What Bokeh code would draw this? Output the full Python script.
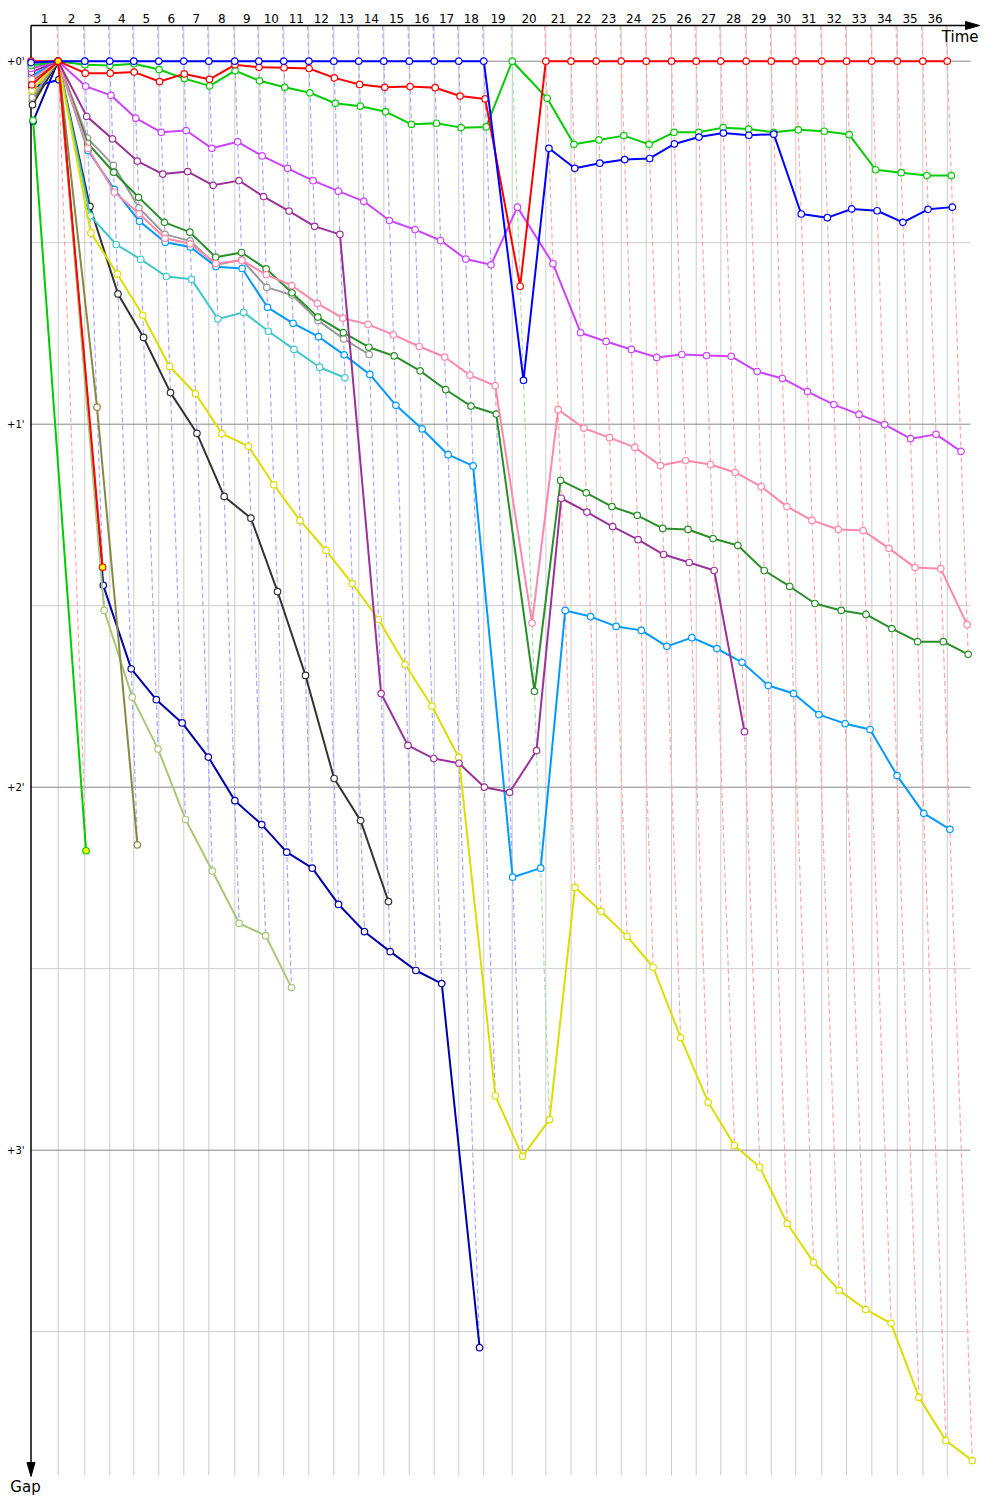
from bokeh.plotting import figure
from bokeh.models import Range1d
from bokeh.embed import file_html
from bokeh.resources import INLINE
from bokeh.core.properties import value

# ---------------- data ----------------
# leader lap times (seconds) for laps 1..36
LAP_TIMES_S = [127.5, 124.7, 117.2, 112.5, 117.2, 117.2, 117.2, 121.9, 112.5, 117.2,
               117.2, 117.2, 117.2, 117.2, 119.1, 117.2, 115.3, 117.2, 133.1, 157.5,
               118.1, 118.1, 117.2, 117.2, 118.6, 115.8, 115.3, 119.1, 117.2, 115.3,
               121.9, 115.8, 118.6, 119.1, 120.0, 114.4]
LAP_LABELS = [str(i) for i in range(1, 37)]
LAP_LEADER = ["red"] + ["blue"] * 17 + ["green"] + ["red"] * 17
GAP_TICKS = [0, 1, 2, 3]
GAP_TICK_LABELS = ["+0'", "+1'", "+2'", "+3'"]

# gaps to leader in minutes, index 0 = start, index n = end of lap n
gap_navy = [0.166, 0.0, 1.444, 1.674, 1.759, 1.823, 1.917, 2.037, 2.103, 2.179, 2.223,
            2.323, 2.398, 2.453, 2.505, 2.541, 3.544]
gap_lightolive = [0.090, 0.0, 1.513, 1.752, 1.895, 2.089, 2.231, 2.375, 2.409, 2.552]
gap_olive = [0.110, 0.0, 0.953, 2.159]
gap_green_ret = [0.163, 2.175]
gap_blue_ret = [0.072, 0.051]
gap_black = [0.120, 0.0, 0.400, 0.641, 0.761, 0.913, 1.025, 1.199, 1.259, 1.461, 1.692,
             1.976, 2.092, 2.315]
gap_teal = [0.045, 0.0, 0.426, 0.505, 0.546, 0.593, 0.601, 0.710, 0.692, 0.744, 0.794,
            0.843, 0.872]
gap_grey = [0.100, 0.0, 0.212, 0.287, 0.404, 0.477, 0.495, 0.561, 0.547, 0.623, 0.644,
            0.714, 0.765, 0.808]
gap_yellow = [0.080, 0.0, 0.473, 0.586, 0.700, 0.841, 0.916, 1.026, 1.061, 1.167, 1.265,
              1.348, 1.439, 1.538, 1.662, 1.777, 1.918, 2.850, 3.017, 2.916, 2.276,
              2.342, 2.411, 2.496, 2.690, 2.868, 2.987, 3.047, 3.202, 3.309, 3.386,
              3.439, 3.477, 3.681, 3.800, 3.855]
gap_dodger = [0.040, 0.0, 0.246, 0.353, 0.441, 0.499, 0.512, 0.566, 0.571, 0.678, 0.722,
              0.759, 0.809, 0.863, 0.948, 1.013, 1.084, 1.115, 2.248, 2.223, 1.513,
              1.530, 1.557, 1.568, 1.612, 1.588, 1.618, 1.656, 1.720, 1.742, 1.800,
              1.825, 1.841, 1.968, 2.072, 2.116]
gap_darkgreen = [0.055, 0.0, 0.226, 0.306, 0.375, 0.444, 0.471, 0.540, 0.527, 0.572, 0.638,
                 0.705, 0.748, 0.788, 0.812, 0.853, 0.905, 0.950, 0.972, 1.736, 1.155,
                 1.189, 1.227, 1.251, 1.287, 1.290, 1.315, 1.334, 1.403, 1.447, 1.494,
                 1.513, 1.524, 1.563, 1.599, 1.599, 1.634]
gap_pink = [0.050, 0.0, 0.240, 0.361, 0.420, 0.488, 0.503, 0.557, 0.549, 0.588, 0.618,
            0.667, 0.708, 0.725, 0.754, 0.786, 0.815, 0.865, 0.894, 1.548, 0.960,
            1.011, 1.037, 1.064, 1.114, 1.100, 1.111, 1.133, 1.172, 1.227, 1.265,
            1.290, 1.293, 1.342, 1.395, 1.398, 1.552]
gap_purple = [0.030, 0.0, 0.152, 0.214, 0.275, 0.311, 0.304, 0.342, 0.329, 0.373, 0.413,
              0.455, 0.477, 1.742, 1.885, 1.921, 1.934, 2.000, 2.014, 1.899, 1.204,
              1.242, 1.282, 1.318, 1.359, 1.381, 1.403, 1.847]
gap_violet = [0.020, 0.0, 0.069, 0.094, 0.157, 0.196, 0.191, 0.240, 0.222, 0.261, 0.295,
              0.329, 0.358, 0.386, 0.439, 0.464, 0.494, 0.545, 0.561, 0.402, 0.558,
              0.748, 0.772, 0.794, 0.816, 0.808, 0.811, 0.813, 0.855, 0.874, 0.910,
              0.946, 0.973, 1.001, 1.040, 1.028, 1.075]
gap_green = [0.012, 0.0, 0.010, 0.012, 0.007, 0.023, 0.048, 0.068, 0.026, 0.054, 0.072,
             0.087, 0.116, 0.124, 0.139, 0.174, 0.171, 0.183, 0.181, 0.0, 0.102,
             0.229, 0.217, 0.205, 0.229, 0.196, 0.196, 0.183, 0.187, 0.196, 0.189,
             0.193, 0.202, 0.299, 0.307, 0.315, 0.315]
gap_red = [0.0, 0.0, 0.033, 0.033, 0.030, 0.056, 0.035, 0.050, 0.010, 0.017, 0.018,
           0.020, 0.046, 0.064, 0.072, 0.070, 0.073, 0.096, 0.104, 0.620] + [0.0] * 17
gap_blue = [0.004, 0.0] + [0.0] * 17 + [0.879, 0.240, 0.295, 0.281, 0.271, 0.268, 0.228,
                                        0.209, 0.198, 0.204, 0.201, 0.421, 0.431, 0.407,
                                        0.412, 0.444, 0.408, 0.402]
gap_red_ret = [0.065, 0.0, 1.394]

# (gaps, colour, laps with highlighted (yellow) markers)
DRIVERS = [
    (gap_navy, "#0000AA", []),
    (gap_lightolive, "#A8C878", []),
    (gap_olive, "#888844", []),
    (gap_green_ret, "#00CC00", [1]),
    (gap_blue_ret, "#0000FF", [1]),
    (gap_black, "#333333", []),
    (gap_teal, "#40C8C8", []),
    (gap_grey, "#999999", []),
    (gap_yellow, "#DDDD00", []),
    (gap_dodger, "#0099FF", []),
    (gap_darkgreen, "#2A8F2A", []),
    (gap_pink, "#FF88AA", []),
    (gap_purple, "#993399", []),
    (gap_violet, "#CC44FF", []),
    (gap_green, "#00CC00", []),
    (gap_red, "#FF0000", []),
    (gap_blue, "#0000FF", []),
    (gap_red_ret, "#FF0000", [1, 2]),
]

DASH_COLORS = {"red": "#FFA8A8", "blue": "#A8A8FF", "green": "#A8E0A8"}

# ---------------- geometry ----------------
W, H = 996, 1496
PXX = 12.8         # px per minute (time axis)
PXY = 363.0        # px per minute (gap axis)
OX, OY = 30.5, 60.7  # px of time 0 / gap 0
M = 0


def X(px):
    return (px - OX) / PXX


def Y(py):
    return (py - OY) / PXY


lap_end = [0.0]
for t in LAP_TIMES_S:
    lap_end.append(lap_end[-1] + t / 60.0)

p = figure(width=W, height=H, output_backend="svg", toolbar_location=None,
           x_range=Range1d(X(M), X(M + W)), y_range=Range1d(Y(M + H), Y(M)),
           x_axis_location=None, y_axis_location=None, min_border=0)
p.outline_line_color = None
p.xgrid.visible = False
p.ygrid.visible = False
p.background_fill_color = "white"

top_g = Y(25)
bot_g = Y(1475)
right_x = X(970)

# vertical lap grid lines
p.segment(x0=lap_end[1:], y0=[top_g] * 36, x1=lap_end[1:], y1=[bot_g] * 36,
          line_color="#CCCCCC", line_width=1)

# horizontal gap grid lines
hv = [i * 0.5 for i in range(8)]
for g in hv:
    major = abs(g - round(g)) < 1e-9
    p.segment(x0=[0], y0=[g], x1=[right_x], y1=[g],
              line_color="#888888" if major else "#CCCCCC", line_width=1)

# dashed lap lines (same-lap crossing)
for k in range(1, 37):
    gs = [d[0][k] for d in DRIVERS if len(d[0]) > k]
    gmax = max(gs)
    p.line([lap_end[k] + top_g, lap_end[k] + gmax], [top_g, gmax],
           line_color=DASH_COLORS[LAP_LEADER[k - 1]], line_width=1.2, line_dash="5 3")

# axes
p.segment(x0=[0], y0=[top_g], x1=[X(966)], y1=[top_g], line_color="black", line_width=1.5)
p.patch([X(979), X(965), X(965)], [top_g, Y(21), Y(29)], color="black")
p.segment(x0=[0], y0=[top_g], x1=[0], y1=[Y(1463)], line_color="black", line_width=1.5)
p.patch([0, X(26.5), X(34.5)], [Y(1476), Y(1462), Y(1462)], color="black")

FONT = value("DejaVu Sans")
mids = [(lap_end[i] + lap_end[i + 1]) / 2 for i in range(36)]
p.text(x=mids, y=[Y(18)] * 36, text=LAP_LABELS, text_font=FONT, text_font_size="12px",
       text_align="center", text_baseline="middle", text_color="black")
p.text(x=[X(24)] * 4, y=GAP_TICKS, text=GAP_TICK_LABELS, text_font=FONT,
       text_font_size="10px", text_align="right", text_baseline="middle", text_color="black")
p.text(x=[X(978)], y=[Y(27)], text=["Time"], text_font=FONT, text_font_size="15px",
       text_align="right", text_baseline="top", text_color="black")
p.text(x=[X(25)], y=[Y(1486)], text=["Gap"], text_font=FONT, text_font_size="15px",
       text_align="center", text_baseline="middle", text_color="black")

# driver lines and markers
for gaps, col, special in DRIVERS:
    xs = [lap_end[i] + g for i, g in enumerate(gaps)]
    p.line(xs, gaps, line_color=col, line_width=2)
    fills = ["#FFFF00" if i in special else "white" for i in range(len(gaps))]
    p.scatter(xs, gaps, marker="circle", size=6.5, fill_color=fills, line_color=col,
              line_width=1.2)

open("out.html", "w").write(file_html(p, INLINE))
